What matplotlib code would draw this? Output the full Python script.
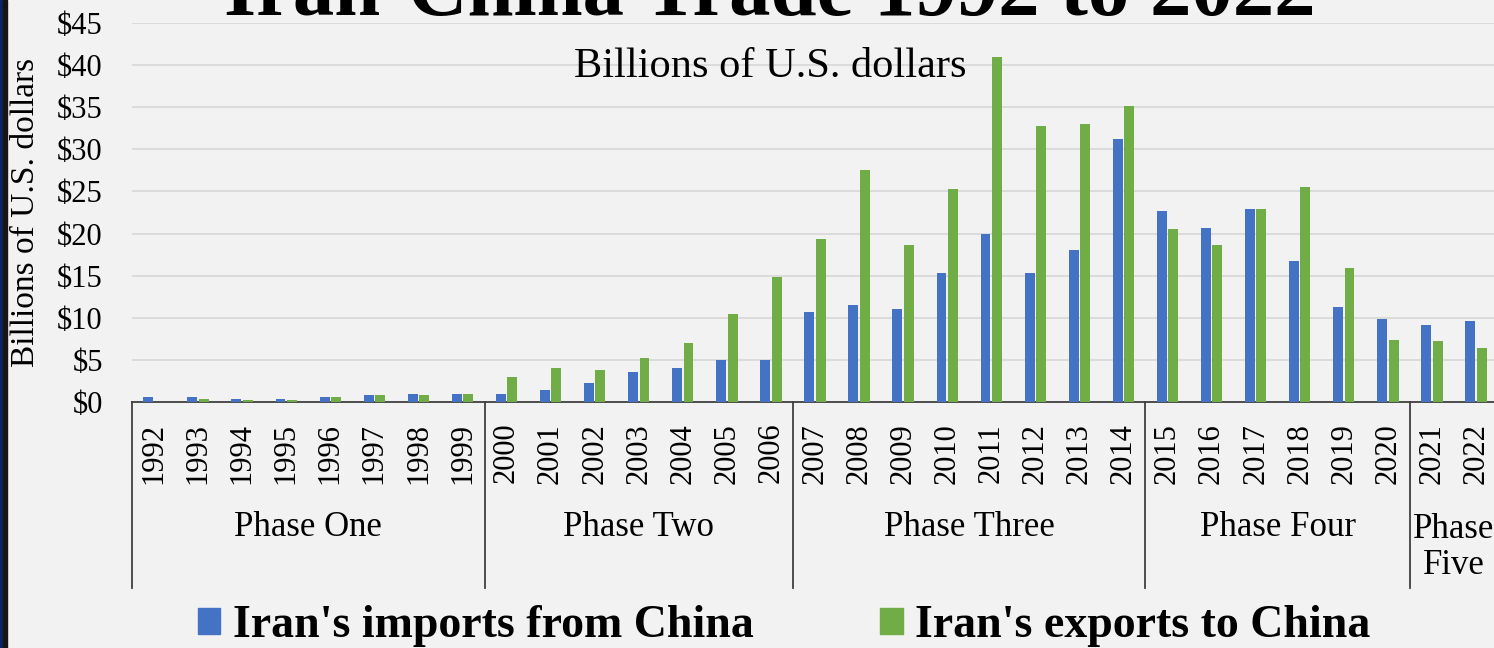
import matplotlib.pyplot as plt
import numpy as np
from matplotlib.patches import Patch, Rectangle
import matplotlib.transforms as mtransforms

years = [str(y) for y in range(1992, 2023)]
imports_from_china = [0.64, 0.64, 0.4, 0.4, 0.64, 0.8, 1.0, 1.0,
                      1.0, 1.4, 2.2, 3.6, 4.0, 5.0, 5.0,
                      10.7, 11.5, 11.1, 15.3, 19.9, 15.3, 18.1, 31.2,
                      22.7, 20.7, 22.9, 16.7, 11.3, 9.9,
                      9.1, 9.6]
exports_to_china = [0.0, 0.4, 0.2, 0.2, 0.64, 0.8, 0.8, 1.0,
                    3.0, 4.0, 3.85, 5.2, 7.0, 10.4, 14.9,
                    19.3, 27.5, 18.7, 25.3, 41.0, 32.8, 33.0, 35.2,
                    20.5, 18.7, 22.9, 25.5, 15.9, 7.4,
                    7.25, 6.4]
phases = ["Phase One", "Phase Two", "Phase Three", "Phase Four", "Phase\nFive"]
phase_sizes = [8, 7, 8, 6, 2]

plt.rcParams['font.family'] = ['Liberation Serif', 'DejaVu Serif']
bg = '#F2F2F2'
blue = '#4472C4'
green = '#70AD47'

fig = plt.figure(figsize=(14.94, 6.48), dpi=100, facecolor=bg)
ax = fig.add_axes([132 / 1494, 1 - 402 / 648, 1366 / 1494, 379 / 648])
ax.set_facecolor(bg)

x = np.arange(len(years))
width = 0.225
ax.bar(x - 0.13, imports_from_china, width, color=blue, zorder=3)
ax.bar(x + 0.13, exports_to_china, width, color=green, zorder=3)

ax.set_xlim(-0.5, len(years) - 0.5)
ax.set_ylim(0, 45)
ax.set_yticks(np.arange(0, 46, 5))
ax.set_yticklabels(['$%d' % v for v in range(0, 46, 5)], fontsize=22)
ax.grid(axis='y', color='#D9D9D9', linewidth=1.3, zorder=0)
ax.set_xticks(x)
ax.set_xticklabels(years, rotation=90, fontsize=22)
ax.tick_params(axis='both', length=0)
ax.tick_params(axis='x', pad=15)
ax.tick_params(axis='y', pad=21)
for s in ['top', 'right', 'left']:
    ax.spines[s].set_visible(False)
ax.spines['bottom'].set_color('#404040')
ax.spines['bottom'].set_linewidth(1.3)

ax.set_ylabel('Billions of U.S. dollars', fontsize=24)
ax.yaxis.set_label_coords(-0.0665, 0.5)

# phase grouping under the year labels
trans = mtransforms.blended_transform_factory(ax.transData, ax.transAxes)
start = -0.5
ax.plot([start, start], [0, -0.49], color='#404040', lw=1.3, transform=trans, clip_on=False)
for name, n in zip(phases, phase_sizes):
    end = start + n
    ax.plot([end, end], [0, -0.49], color='#404040', lw=1.3, transform=trans, clip_on=False)
    ypos = -0.33 if '\n' not in name else -0.384
    ax.text((start + end) / 2, ypos, name, transform=trans, ha='center', va='center',
            fontsize=25, linespacing=1.15)
    start = end

fig.text(770 / 1494, 1 - 15 / 648, 'Iran-China Trade 1992 to 2022', ha='center',
         va='baseline', fontsize=59.6, fontweight='bold')
fig.text(770 / 1494, 1 - 77 / 648, 'Billions of U.S. dollars', ha='center',
         va='baseline', fontsize=30.5)

handles = [Patch(color=blue), Patch(color=green)]
fig.legend(handles, ["Iran's imports from China", "Iran's exports to China"],
           loc='center', bbox_to_anchor=(784 / 1494, 1 - 626 / 648), ncol=2,
           frameon=False, prop={'size': 33, 'weight': 'bold'},
           handlelength=0.5, handleheight=0.5, handletextpad=0.27,
           columnspacing=2.75)

# dark frame edge on the left
fig.patches.append(Rectangle((0, 0), 3 / 1494, 1, transform=fig.transFigure,
                             color='#0c2366', zorder=10))
fig.patches.append(Rectangle((3 / 1494, 0), 4 / 1494, 1, transform=fig.transFigure,
                             color='#151515', zorder=10))

fig.savefig('out.png', dpi=100, facecolor=bg)
